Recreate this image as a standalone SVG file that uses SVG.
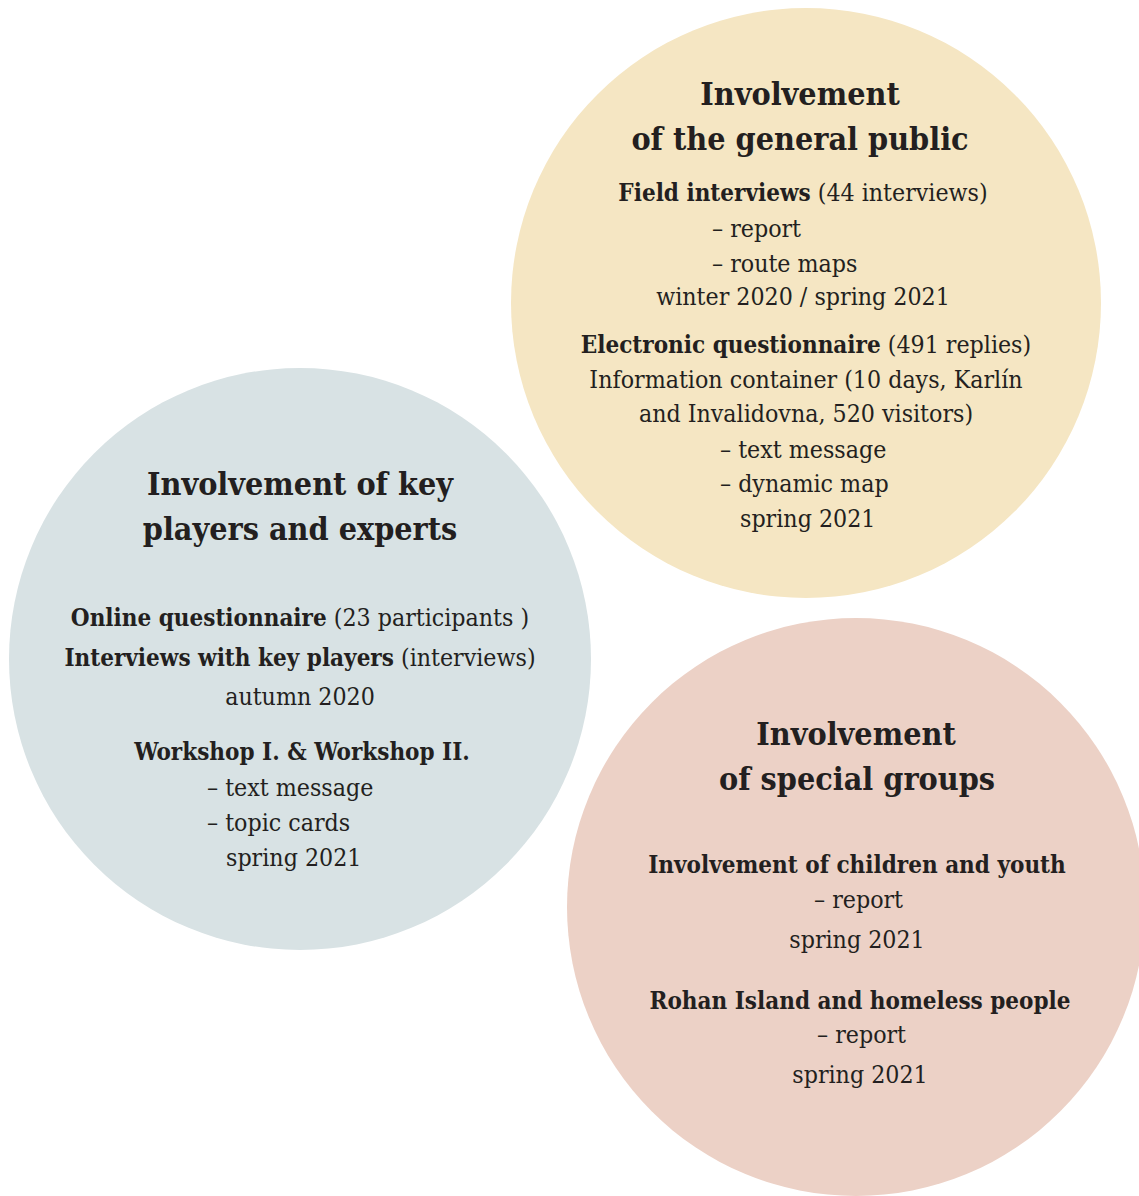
<svg xmlns="http://www.w3.org/2000/svg" width="1139" height="1196" viewBox="0 0 1139 1196">
<style>
text{font-family:"DejaVu Serif Condensed","DejaVu Serif",serif;fill:#231f20;}
.t{font-size:32px;font-weight:bold;text-anchor:middle;}
.b{font-size:24.7px;}
.c{text-anchor:middle;}
.bd{font-weight:bold;font-size:24px;}
</style>
<rect width="1139" height="1196" fill="#ffffff"/>
<g id="public">
<circle cx="806" cy="303" r="295" fill="#f5e6c3"/>
<text class="t" x="800" y="105">Involvement</text>
<text class="t" x="800" y="150">of the general public</text>
<text class="b c" x="803" y="201"><tspan class="bd">Field interviews</tspan> (44 interviews)</text>
<text class="b" x="712" y="237">– report</text>
<text class="b" x="712" y="272">– route maps</text>
<text class="b c" x="803" y="305">winter 2020 / spring 2021</text>
<text class="b c" x="806" y="353"><tspan class="bd">Electronic questionnaire</tspan> (491 replies)</text>
<text class="b c" x="806" y="388">Information container (10 days, Karlín</text>
<text class="b c" x="806" y="422">and Invalidovna, 520 visitors)</text>
<text class="b" x="720" y="458">– text message</text>
<text class="b" x="720" y="492">– dynamic map</text>
<text class="b" x="740" y="527">spring 2021</text>
</g>
<g id="experts">
<circle cx="300" cy="659" r="291" fill="#d8e2e4"/>
<text class="t" x="300" y="495">Involvement of key</text>
<text class="t" x="300" y="540">players and experts</text>
<text class="b c" x="300" y="626"><tspan class="bd">Online questionnaire</tspan>  (23 participants )</text>
<text class="b c" x="300" y="666"><tspan class="bd">Interviews with key players</tspan> (interviews)</text>
<text class="b c" x="300" y="705">autumn 2020</text>
<text class="b c bd" x="302" y="760">Workshop I. &amp; Workshop II.</text>
<text class="b" x="207" y="796">– text message</text>
<text class="b" x="207" y="831">– topic cards</text>
<text class="b" x="226" y="866">spring 2021</text>
</g>
<g id="special">
<circle cx="856" cy="907" r="289" fill="#ecd1c6"/>
<text class="t" x="856" y="745">Involvement</text>
<text class="t" x="857" y="790">of special groups</text>
<text class="b c bd" x="857" y="873">Involvement of children and youth</text>
<text class="b" x="814" y="908">– report</text>
<text class="b c" x="857" y="948">spring 2021</text>
<text class="b c bd" x="860" y="1009">Rohan Island and homeless people</text>
<text class="b" x="817" y="1043">– report</text>
<text class="b c" x="860" y="1083">spring 2021</text>
</g>
<g id="connectors"></g>
</svg>
